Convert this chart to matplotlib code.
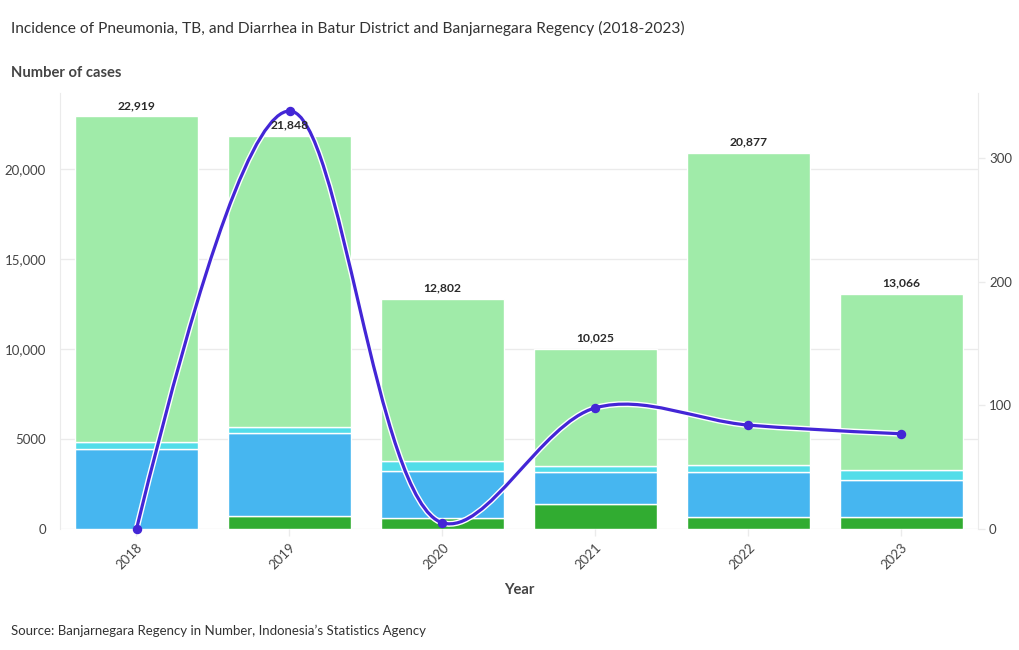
import numpy as np
import matplotlib
matplotlib.use("Agg")
import matplotlib.pyplot as plt
from matplotlib.path import Path
from matplotlib.patches import PathPatch
import matplotlib.patheffects as pe
from matplotlib.ticker import FuncFormatter

years = ["2018", "2019", "2020", "2021", "2022", "2023"]
seg_darkgreen = [0, 750, 590, 1410, 690, 690]
seg_blue = [4450, 4600, 2630, 1740, 2500, 2030]
seg_cyan = [370, 330, 540, 370, 350, 560]
totals = [22919, 21848, 12802, 10025, 20877, 13066]
line_values = [0, 338, 5, 98, 84, 77]

c_dark = "#31ac31"
c_blue = "#46b6f0"
c_cyan = "#52dde9"
c_light = "#a0eba9"
c_line = "#4326d6"

FONT = "Lato"
plt.rcParams["font.family"] = [FONT, "DejaVu Sans"]

W, H = 1020, 650
fig = plt.figure(figsize=(W / 100, H / 100), dpi=100)
L, R, T, B = 60, 978, 93, 529
ax = fig.add_axes([L / W, 1 - B / H, (R - L) / W, (B - T) / H])
ax2 = ax.twinx()

x = np.arange(len(years))
dark = np.array(seg_darkgreen, float)
blue = np.array(seg_blue, float)
cyan = np.array(seg_cyan, float)
tot = np.array(totals, float)
light = tot - dark - blue - cyan

bw = 0.8
bottom = np.zeros(len(years))
for vals, col in [(dark, c_dark), (blue, c_blue), (cyan, c_cyan), (light, c_light)]:
    ax.bar(x, vals, bw, bottom=bottom, color=col, edgecolor="white", linewidth=1.0, zorder=2)
    bottom = bottom + vals

ax.set_xlim(-0.5, len(years) - 0.5)
ax.set_ylim(0, (B - T) / 0.018)
ax2.set_ylim(0, (B - T) / 1.2367)

ax.set_yticks([0, 5000, 10000, 15000, 20000])
ax.yaxis.set_major_formatter(FuncFormatter(lambda v, p: "5000" if v == 5000 else ("0" if v == 0 else f"{int(v):,}")))
ax2.set_yticks([0, 100, 200, 300])
ax.grid(axis="y", color="#ebebeb", linewidth=1, zorder=0)
ax.set_axisbelow(True)

for a in (ax, ax2):
    for s in ["top", "bottom"]:
        a.spines[s].set_visible(False)
    a.spines["left"].set_color("#ebebeb")
    a.spines["right"].set_color("#ebebeb")
ax.spines["right"].set_visible(False)
ax2.spines["left"].set_visible(False)

ax.tick_params(axis="y", length=0, pad=10, labelsize=9.5, labelcolor="#444444")
ax2.tick_params(axis="y", length=5, width=1, color="#ebebeb", pad=3, labelsize=9.5, labelcolor="#444444")
ax.set_xticks(x)
ax.set_xticklabels(years, rotation=45, ha="right", rotation_mode="anchor", fontsize=9.5, color="#444444")
ax.tick_params(axis="x", length=5, width=1, color="#ebebeb", pad=4)

for xi, t in zip(x, totals):
    ax2.annotate(f"{t:,}", xy=(xi, t), xycoords=ax.transData,
                 xytext=(0, 4), textcoords="offset points", ha="center", va="bottom",
                 fontsize=8.7, fontweight="bold", color="#2a2a2a", zorder=10)

# smoothed line (plotly-style spline), computed in pixel space
fig.canvas.draw()
pts = ax2.transData.transform(np.column_stack([x, line_values]))

def tangent(p0, p1, p2, s=1.0):
    d1 = p0 - p1
    d2 = p2 - p1
    d1a = np.hypot(*d1) ** 0.5
    d2a = np.hypot(*d2) ** 0.5
    num = (d2a * d2a * d1 - d1a * d1a * d2) * s
    den1 = 3 * d2a * (d1a + d2a)
    den2 = 3 * d1a * (d1a + d2a)
    return p1 + num / den1, p1 - num / den2

tans = [tangent(pts[i - 1], pts[i], pts[i + 1]) for i in range(1, len(pts) - 1)]
verts = [pts[0], tans[0][0], pts[1]]
codes = [Path.MOVETO, Path.CURVE3, Path.CURVE3]
for i in range(2, len(pts) - 1):
    verts += [tans[i - 2][1], tans[i - 1][0], pts[i]]
    codes += [Path.CURVE4] * 3
verts += [tans[-1][1], pts[-1]]
codes += [Path.CURVE3] * 2
verts_data = ax2.transData.inverted().transform(np.array(verts))
patch = PathPatch(Path(verts_data, codes), facecolor="none", edgecolor=c_line, linewidth=2.3,
                  zorder=5, clip_on=False,
                  path_effects=[pe.Stroke(linewidth=4.3, foreground="white"), pe.Normal()])
ax2.add_patch(patch)
ax2.plot(x, line_values, "o", color=c_line, markersize=5.8, zorder=6, clip_on=False)

fig.text(11 / W, 1 - 28 / H, "Incidence of Pneumonia, TB, and Diarrhea in Batur District and Banjarnegara Regency (2018-2023)",
         fontsize=11.2, color="#333333", va="center", ha="left")
fig.text(11 / W, 1 - 73 / H, "Number of cases", fontsize=10.6, fontweight="bold", color="#444444", va="center", ha="left")
fig.text(519 / W, 1 - 590 / H, "Year", fontsize=10.6, fontweight="bold", color="#444444", va="center", ha="center")
fig.text(11 / W, 1 - 631 / H, "Source: Banjarnegara Regency in Number, Indonesia\u2019s Statistics Agency",
         fontsize=9.5, color="#333333", va="center", ha="left")

fig.savefig("out.png", dpi=100)
